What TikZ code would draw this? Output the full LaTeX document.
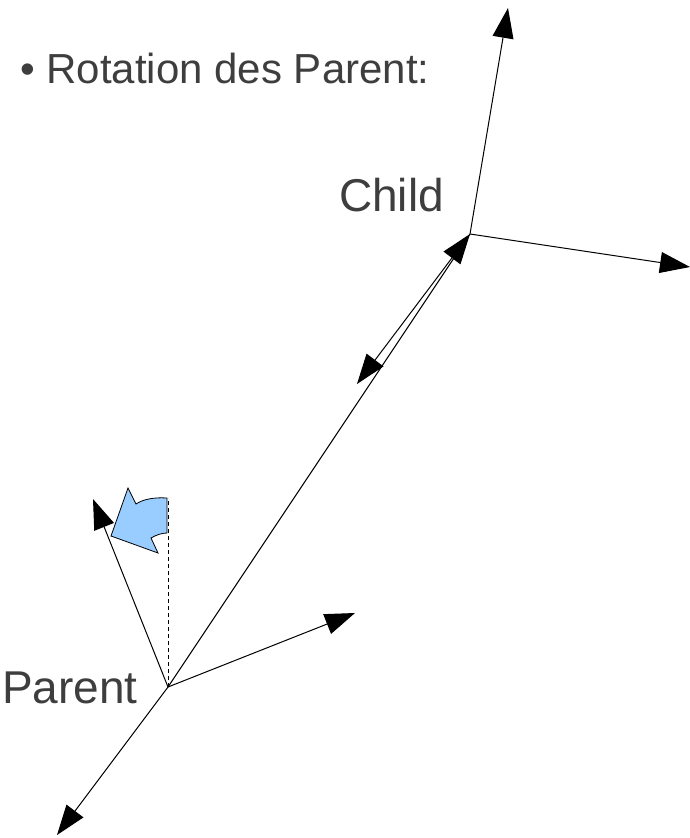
\documentclass[tikz,border=0pt]{standalone}
\usepackage{fontspec}
\setmainfont{Liberation Sans}
\usetikzlibrary{arrows.meta}
\definecolor{textgray}{RGB}{62,62,62}
\definecolor{lightblue}{RGB}{153,204,255}

\tikzset{
  axis/.style={line width=1pt, -{Triangle[length=30pt,width=21pt]}},
  label/.style={inner sep=0pt, text=textgray, font=\fontsize{46}{50}\selectfont}
}

\begin{document}
\begin{tikzpicture}[x=1pt, y=-1pt]
        \useasboundingbox (0,0) rectangle (690,838);
        % frames
        \coordinate (parent) at (168,687);
        \coordinate (child) at (470,234);
        \coordinate (parentx) at (355,613);
        \coordinate (parenty) at (93,499);
        \coordinate (parentneg) at (57,835);
        \coordinate (upright) at (168,498);
        \coordinate (childx) at (690,267);
        \coordinate (childy) at (508,8);
        \coordinate (offset) at (357,384);
        \node[label, font=\fontsize{42}{48}\selectfont, anchor=base west] (title) at (20,83) {• Rotation des Parent:};
        \node[label, anchor=base west] (childlabel) at (339,211) {Child};
        \node[label, anchor=base west] (parentlabel) at (2,703) {Parent};
        \draw[line width=1pt] (parent) -- (child);
        \draw[axis] (parent) -- (parentx);
        \draw[axis] (parent) -- (parenty);
        \draw[axis] (parent) -- (parentneg);
        \draw[line width=1pt, dash pattern=on 4pt off 3pt] (parent) -- (upright);
        \draw[axis] (child) -- (childx);
        \draw[axis] (child) -- (childy);
        \draw[line width=1pt, {Triangle[length=30pt,width=21pt]}-{Triangle[length=30pt,width=21pt]}] (offset) -- (child);
        % rotation arrow
        \filldraw[fill=lightblue, draw=black, line width=0.8pt, line join=miter]
            (167,498) .. controls (152,497) and (142,500) .. (136,504) -- (128,488) -- (111,536)
            -- (158,553) -- (151,538) .. controls (156,535) and (162,533) .. (167,533) -- cycle;
    \end{tikzpicture}
\end{document}
